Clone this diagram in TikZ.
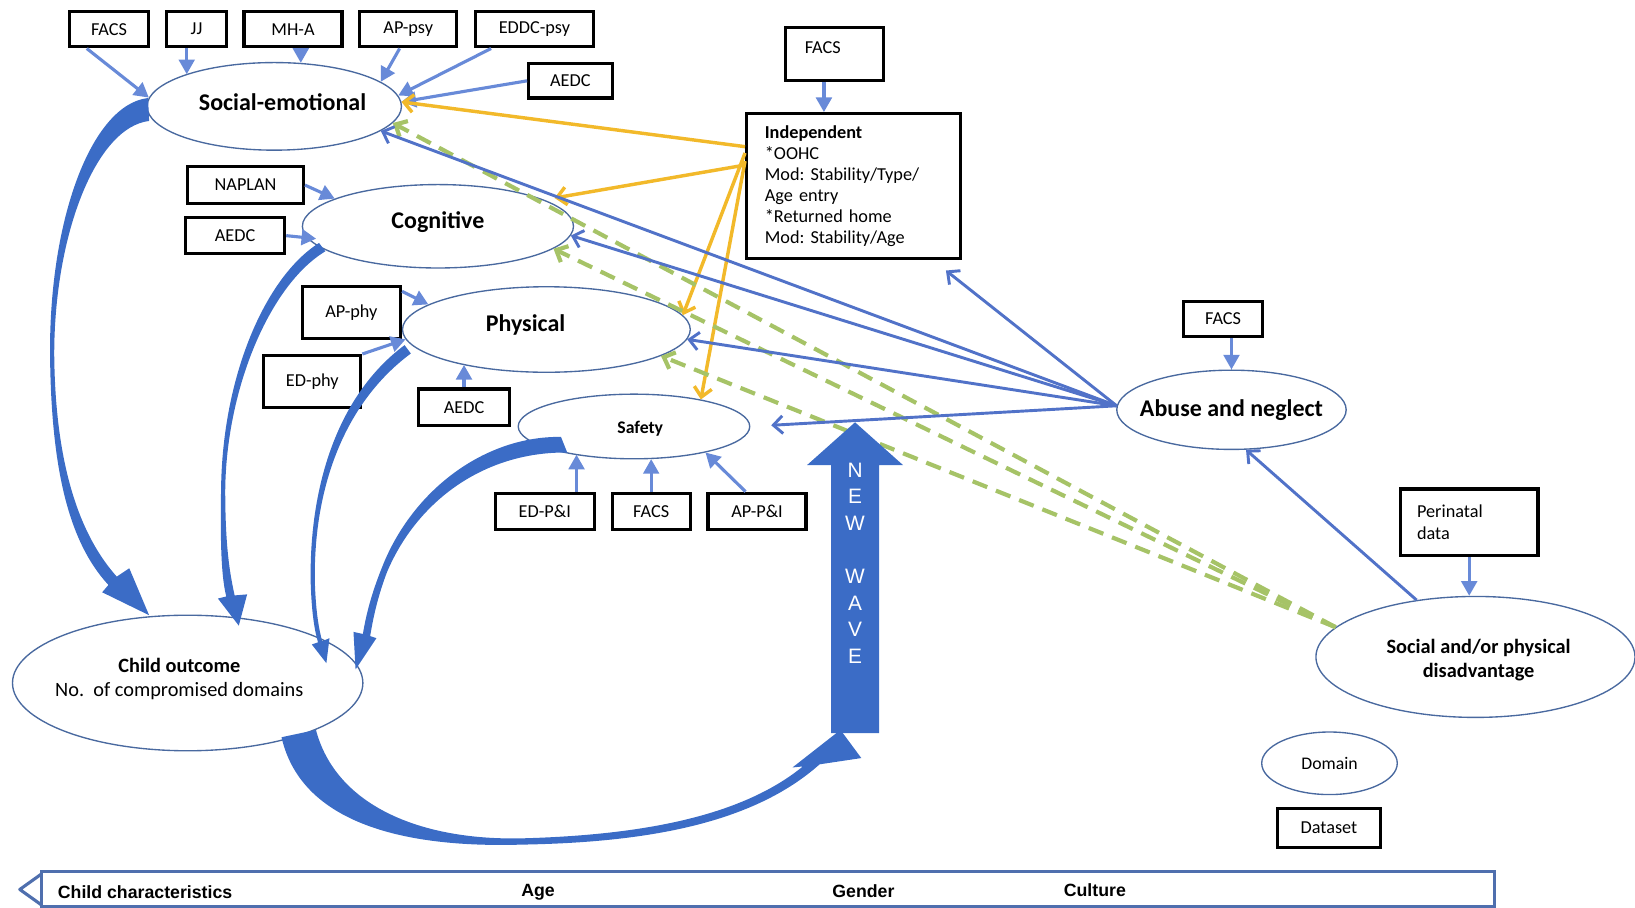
\documentclass[tikz,border=0pt]{standalone}
\usepackage{fontspec}
\setmainfont{Carlito}
\newfontfamily\arialfont{Liberation Sans}
\usepackage{xcolor}
\usepackage{tikz}
\usetikzlibrary{arrows.meta}
\usetikzlibrary{shapes.geometric}
\definecolor{bandblue}{rgb}{0.231, 0.424, 0.776}
\definecolor{lineblue}{rgb}{0.318, 0.447, 0.784}
\definecolor{feedblue}{rgb}{0.408, 0.541, 0.847}
\definecolor{ringblue}{rgb}{0.286, 0.412, 0.624}
\definecolor{framblue}{rgb}{0.310, 0.435, 0.682}
\definecolor{marigold}{rgb}{0.949, 0.725, 0.165}
\definecolor{sage}{rgb}{0.651, 0.765, 0.404}
\frenchspacing

\begin{document}
\begin{tikzpicture}[x=1pt,y=-1pt]
	\tikzstyle{databox} = [draw=black,line width=3pt,inner sep=0pt,font=\fontsize{17.5}{21}\selectfont]
	\tikzstyle{domainring} = [ellipse,draw=ringblue,line width=1.3pt,inner sep=0pt]
	\tikzstyle{domaintext} = [font=\bfseries\fontsize{23}{27}\selectfont]
	\tikzstyle{smalltext} = [font=\bfseries\fontsize{19.5}{23}\selectfont,align=center]
	\tikzstyle{bartext} = [font=\arialfont\bfseries\fontsize{17}{20}\selectfont]
	\tikzstyle{feed} = [feedblue,line width=3pt,-{Triangle[length=14pt,width=15pt]}]
	\tikzstyle{effect} = [lineblue,line width=2.8pt,-{Straight Barb[length=9pt,width=17pt]}]
	\tikzstyle{placement} = [marigold,line width=3.3pt,-{Straight Barb[length=9pt,width=17pt]}]
	\tikzstyle{risk} = [sage,line width=4pt,dash pattern=on 15pt off 9pt,-{Straight Barb[length=9pt,width=17pt]}]
	\tikzstyle{band} = [fill=bandblue]

	\useasboundingbox (0,0) rectangle (1568,870);

	% Draw the domain ellipses
	\node[domainring,minimum width=244pt,minimum height=84pt,label={[domaintext,xshift=8pt,yshift=4pt]center:Social-emotional}] (soc) at (263,102) {};
	\node[domainring,minimum width=260pt,minimum height=80pt,label={[domaintext,yshift=4pt]center:Cognitive}] (cog) at (420,217) {};
	\node[domainring,minimum width=276pt,minimum height=82pt,label={[domaintext,xshift=-20pt,yshift=4pt]center:Physical}] (phy) at (524,316) {};
	\node[domainring,minimum width=222pt,minimum height=62pt,label={[font=\bfseries\fontsize{17}{20}\selectfont,xshift=6pt,yshift=-2pt]center:Safety}] (saf) at (608,409) {};
	\node[domainring,minimum width=220pt,minimum height=76pt,label={[domaintext]center:Abuse and neglect}] (abuse) at (1181,393) {};
	\node[domainring,minimum width=306pt,minimum height=116pt,label={[smalltext,xshift=3pt,yshift=-3pt]center:Social and/or physical\\disadvantage}] (disadv) at (1415,630) {};
	\node[domainring,minimum width=336pt,minimum height=130pt,label={[smalltext,xshift=-8pt,yshift=4pt]center:Child outcome\\\mdseries No.\ \ of compromised domains}] (outcome) at (180,655) {};

	% Draw the dataset boxes
	\node[databox,minimum width=75pt,minimum height=34pt] (facsA) at (104.5,28) {FACS};
	\node[databox,minimum width=57pt,minimum height=34pt] (jj) at (188.5,28) {JJ};
	\node[databox,minimum width=94pt,minimum height=34pt] (mha) at (281,28) {MH-A};
	\node[databox,minimum width=93pt,minimum height=34pt] (appsy) at (391.5,28) {AP-psy};
	\node[databox,minimum width=113pt,minimum height=34pt] (eddc) at (512.5,28) {EDDC-psy};
	\node[databox,minimum width=80pt,minimum height=33pt] (aedcA) at (547,77.5) {AEDC};
	\node[databox,minimum width=111pt,minimum height=35pt] (naplan) at (235.5,177.5) {NAPLAN};
	\node[databox,minimum width=95pt,minimum height=34pt] (aedcB) at (225.5,226) {AEDC};
	\node[databox,minimum width=94pt,minimum height=50pt] (apphy) at (337,300) {AP-phy};
	\node[databox,minimum width=93pt,minimum height=50pt] (edphy) at (299.5,366) {ED-phy};
	\node[databox,minimum width=88pt,minimum height=35pt] (aedcC) at (445,390.5) {AEDC};
	\node[databox,minimum width=95pt,minimum height=35pt] (edpi) at (522.5,490.5) {ED-P\&I};
	\node[databox,minimum width=75pt,minimum height=35pt] (facsC) at (624.5,490.5) {FACS};
	\node[databox,minimum width=94pt,minimum height=35pt] (appi) at (726,490.5) {AP-P\&I};
	\node[databox,minimum width=94pt,minimum height=51pt,label={[font=\fontsize{17.5}{21}\selectfont,xshift=-11pt,yshift=6pt]center:FACS}] (facsB) at (800,51.5) {};
	\node[databox,minimum width=205pt,minimum height=139pt,text width=170pt,align=left,font=\fontsize{17.5}{20.3}\selectfont] (indep) at (818.5,178.5)
		{\textbf{Independent}\\{}*OOHC\\Mod: Stability/Type/\\Age entry\\{}*Returned home\\Mod: Stability/Age};
	\node[databox,minimum width=76pt,minimum height=34pt] (facsD) at (1173,306) {FACS};
	\node[databox,minimum width=132pt,minimum height=64pt,text width=100pt,align=left] (perinatal) at (1409,501) {Perinatal\\data};

	% Legend
	\node[domainring,minimum width=130pt,minimum height=60pt,label={[font=\fontsize{17}{20}\selectfont]center:Domain}] (legdomain) at (1275,732) {};
	\node[databox,minimum width=99pt,minimum height=38pt] (legdataset) at (1274.5,794) {Dataset};

	% Draw the dataset links
	\draw[feed] (facsA.221) -- (soc.176);
	\draw[feed] (jj.243) -- (jj.243 |- soc.160);
	\draw[feed] (mha.292) -- (mha.292 |- soc.59);
	\draw[feed] (appsy.246) -- (soc.13);
	\draw[feed] (eddc.204) -- (soc.5);
	\draw[feed] (aedcA.west) -- (soc.2);
	\draw[feed] (naplan.east) -- (cog.165);
	\draw[feed,shorten >=-9pt] (aedcB.east) -- (cog.185);
	\draw[feed] (apphy.23) -- (phy.168);
	\draw[feed] (edphy.north east) -- (phy.184);
	\draw[feed] (aedcC.north) -- (aedcC.north |- phy.203);
	\draw[feed] (edpi.32) -- (edpi.32 |- saf.205);
	\draw[feed] (facsC.north) -- (facsC.north |- saf.298);
	\draw[feed] (appi.120) -- (saf.340);
	\draw[feed] (facsB.250) -- (facsB.250 |- indep.north);
	\draw[feed] (facsD.south -| abuse.north) -- (abuse.north);
	\draw[feed] (perinatal.south) -- (perinatal.south |- disadv.north);

	% Draw the placement paths
	\draw[placement] (indep.160) -- (soc.2);
	\draw[placement,shorten >=10pt] (indep.169) -- (cog.14);
	\draw[placement] (indep.163) -- (phy.6);
	\draw[placement] (indep.167) -- (saf.22);

	% Draw the disadvantage paths
	\draw[risk] (disadv.168) -- (soc.352);
	\draw[risk] (disadv.168) -- (cog.349);
	\draw[risk] (disadv.168) -- (phy.347);

	% Draw the abuse and neglect paths
	\draw[effect,shorten >=16pt] (abuse.178) -- (indep.317);
	\draw[effect] (abuse.178) -- (soc.347);
	\draw[effect] (abuse.178) -- (cog.356);
	\draw[effect] (abuse.178) -- (phy.356);
	\draw[effect,shorten >=20pt] (abuse.178) -- (saf.east);
	\draw[effect] (disadv.136) -- (abuse.290);

	% Draw the feedback bands
	\fill[band] (142,94) .. controls (88,100) and (47,210) .. (48,340)
		.. controls (49,450) and (66,520) .. (104,561) -- (98,568) -- (143,590) -- (124,545) -- (112,553)
		.. controls (78,515) and (53,450) .. (52,340) .. controls (52,225) and (92,122) .. (143,116) -- cycle;
	\fill[band] (306,233) .. controls (255,265) and (213,360) .. (212,470)
		.. controls (211,530) and (213,556) .. (217,572) -- (209,574) -- (229,600) -- (237,570) -- (225,571)
		.. controls (221,552) and (216,528) .. (216,470) .. controls (217,372) and (259,273) .. (312,241) -- cycle;
	\fill[band] (388,331) .. controls (322,380) and (296,470) .. (298,560)
		.. controls (299,590) and (302,606) .. (305,616) -- (299,618) -- (313,636) -- (316,612) -- (309,615)
		.. controls (306,604) and (303,588) .. (302,560) .. controls (300,472) and (328,388) .. (394,339) -- cycle;
	\fill[band] (538,419) .. controls (465,418) and (395,470) .. (366,545)
		.. controls (356,570) and (351,590) .. (348,608) -- (339,606) -- (341,642) -- (361,612) -- (355,610)
		.. controls (358,592) and (362,573) .. (371,549) .. controls (400,480) and (465,433) .. (544,434) -- cycle;
	\fill[band] (270,707) .. controls (290,795) and (400,813) .. (500,810)
		.. controls (620,808) and (722,790) .. (786,733) -- (826,727) -- (806,700) -- (760,736) -- (770,735)
		.. controls (710,784) and (612,801) .. (500,804) .. controls (402,806) and (322,772) .. (303,700) -- cycle;

	% Draw the new wave arrow
	\fill[bandblue] (797,703) -- (797,446) -- (774,446) -- (820,405) -- (866,446) -- (843,446) -- (843,703) -- cycle;
	\node[font=\arialfont\fontsize{20}{25.5}\selectfont,text=white,align=center] (wave) at (820,540) {N\\E\\W\\[25.5pt]W\\A\\V\\E};

	% Draw the child characteristics bar
	\draw[framblue,line width=3pt] (40,836) rectangle (1433,869);
	\draw[framblue,line width=3pt,line join=round] (40,838) -- (19,853) -- (40,868);
	\node[bartext,anchor=west] (chars) at (52,856) {Child characteristics};
	\node[bartext] (age) at (516,856) {Age};
	\node[bartext] (gender) at (828,855) {Gender};
	\node[bartext] (culture) at (1050,854) {Culture};
\end{tikzpicture}
\end{document}
